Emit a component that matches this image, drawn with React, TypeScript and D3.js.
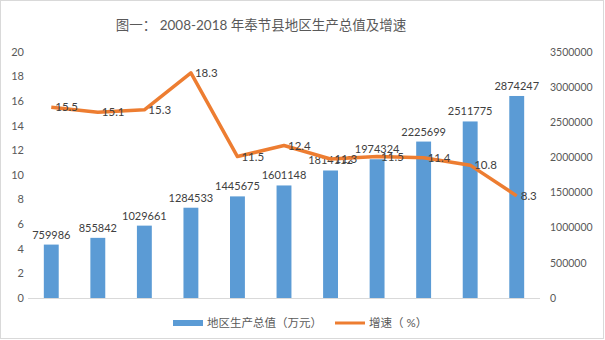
import React from "react";
import * as d3 from "d3";

const years = ["2008","2009","2010","2011","2012","2013","2014","2015","2016","2017","2018"];
const gdp = [759986, 855842, 1029661, 1284533, 1445675, 1601148, 1814112, 1974324, 2225699, 2511775, 2874247];
const growth = [15.5, 15.1, 15.3, 18.3, 11.5, 12.4, 11.3, 11.5, 11.4, 10.8, 8.3];
const leftTicks = [0, 2, 4, 6, 8, 10, 12, 14, 16, 18, 20];
const rightTicks = [0, 500000, 1000000, 1500000, 2000000, 2500000, 3000000, 3500000];
const title = "图一： 2008-2018 年奉节县地区生产总值及增速";
const legendBar = "地区生产总值（万元）";
const legendLine = "增速（ %）";

const W = 605, H = 340;
const FONT = "Lato, 'Noto Sans CJK SC', sans-serif";

export default function App() {
  const x = d3.scaleBand<string>().domain(years).range([28, 540]).paddingInner(0.68).paddingOuter(0.34);
  const yL = d3.scaleLinear().domain([0, 20]).range([298, 52]);
  const yR = d3.scaleLinear().domain([0, 3500000]).range([298, 52]);
  const cx = (i: number) => (x(years[i]) as number) + x.bandwidth() / 2;
  const line = d3.line<number>().x((_, i) => cx(i)).y((d) => yL(d));

  return (
    <svg width={W} height={H} style={{ position: "fixed", left: 0, top: 0, fontFamily: FONT }}>
      <rect x={0.5} y={0.5} width={W - 2} height={H - 2} fill="#fff" stroke="#d9d9d9" />
      <text x={261} y={30} textAnchor="middle" fontSize={13.5} fill="#595959">{title}</text>
      {leftTicks.map((t) => (
        <text key={"l" + t} x={24} y={yL(t)} dy="0.35em" textAnchor="end" fontSize={11} fill="#595959">{t}</text>
      ))}
      {rightTicks.map((t) => (
        <text key={"r" + t} x={550} y={yR(t)} dy="0.35em" textAnchor="start" fontSize={10.5} fill="#595959">{t}</text>
      ))}
      <line x1={28} x2={540} y1={298.5} y2={298.5} stroke="#d9d9d9" />
      {gdp.map((v, i) => (
        <rect key={"b" + i} x={x(years[i])} y={yR(v)} width={x.bandwidth()} height={298 - yR(v)} fill="#5B9BD5" />
      ))}
      {gdp.map((v, i) => (
        <text key={"bl" + i} x={cx(i)} y={yR(v) - 6} textAnchor="middle" fontSize={11} fill="#404040">{v}</text>
      ))}
      <path d={line(growth) || ""} fill="none" stroke="#ED7D31" strokeWidth={3.5} strokeLinejoin="round" />
      {growth.map((v, i) => (
        <text key={"gl" + i} x={cx(i) + 4} y={yL(v)} dy="0.35em" textAnchor="start" fontSize={11.5} fill="#404040">{v}</text>
      ))}
      <rect x={173} y={320} width={30} height={6} fill="#5B9BD5" />
      <text x={207} y={323} dy="0.35em" fontSize={11.5} fill="#595959">{legendBar}</text>
      <line x1={335} x2={365} y1={323} y2={323} stroke="#ED7D31" strokeWidth={3} />
      <text x={369} y={323} dy="0.35em" fontSize={11.5} fill="#595959">{legendLine}</text>
    </svg>
  );
}
